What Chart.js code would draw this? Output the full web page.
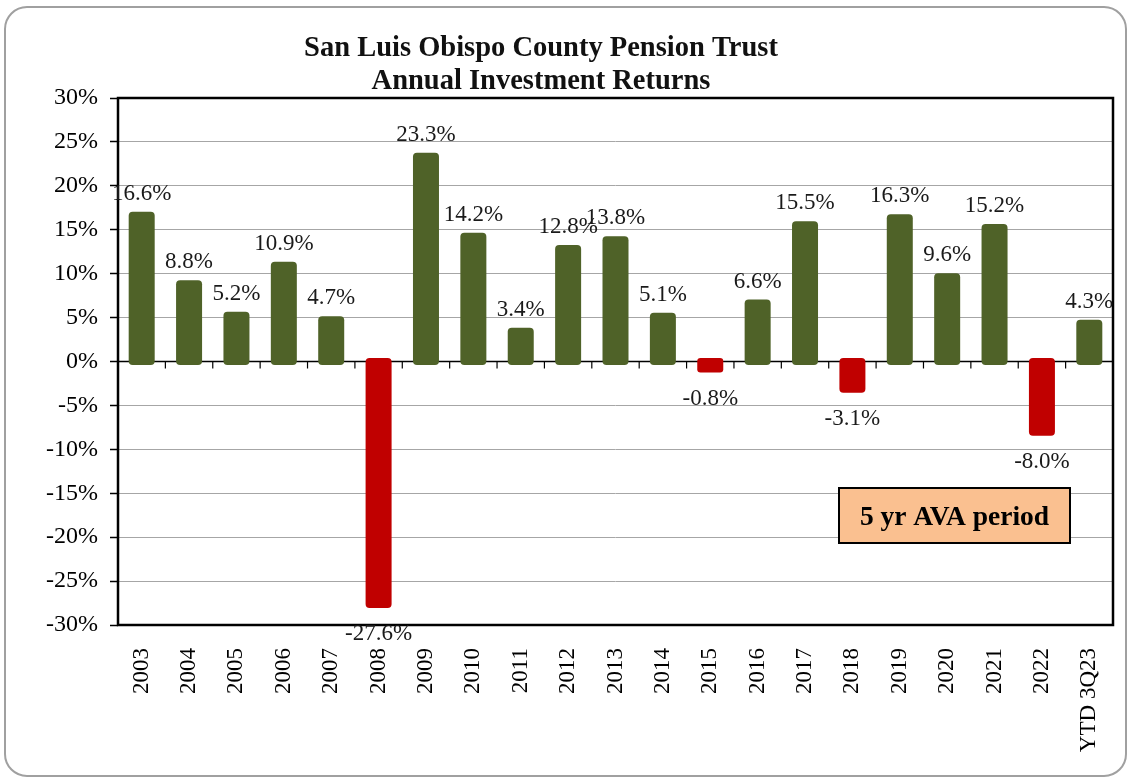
<!DOCTYPE html>
<html>
<head>
<meta charset="utf-8">
<script src="https://cdn.jsdelivr.net/npm/chart.js@4"></script>
<style>
html,body{margin:0;padding:0;background:#fff;}
#wrap{width:1128px;height:778px;position:relative;}
</style>
</head>
<body>
<div id="wrap"><canvas id="c" width="1128" height="778"></canvas></div>
<script>
const categories = ['2003','2004','2005','2006','2007','2008','2009','2010','2011','2012','2013','2014','2015','2016','2017','2018','2019','2020','2021','2022','YTD 3Q23'];
const returns = [16.6, 8.8, 5.2, 10.9, 4.7, -27.6, 23.3, 14.2, 3.4, 12.8, 13.8, 5.1, -0.8, 6.6, 15.5, -3.1, 16.3, 9.6, 15.2, -8.0, 4.3];
const titleLines = ['San Luis Obispo County Pension Trust', 'Annual Investment Returns'];
const annotationText = '5 yr AVA period';
const yMin = -30, yMax = 30, yStep = 5;

const GREEN = '#4f6228', RED = '#c00000';
const SERIF = "'Liberation Serif', 'Times New Roman', serif";

const decor = {
  id: 'decor',
  beforeDraw(chart) {
    const ctx = chart.ctx;
    ctx.save();
    ctx.fillStyle = '#fff';
    ctx.fillRect(0, 0, chart.width, chart.height);
    ctx.strokeStyle = '#a0a0a0';
    ctx.lineWidth = 2;
    ctx.beginPath();
    ctx.roundRect(5, 7, 1121, 769, 22);
    ctx.stroke();
    ctx.restore();
  },
  beforeDatasetsDraw(chart) {
    const ctx = chart.ctx, x = chart.scales.x, y = chart.scales.y, a = chart.chartArea;
    const y0 = y.getPixelForValue(0);
    ctx.save();
    ctx.strokeStyle = '#000';
    ctx.lineWidth = 1.5;
    ctx.beginPath();
    ctx.moveTo(a.left, y0); ctx.lineTo(a.right, y0);
    ctx.stroke();
    ctx.lineWidth = 1.2;
    for (let i = 1; i <= categories.length; i++) {
      const xb = i < categories.length ? (x.getPixelForValue(i - 1) + x.getPixelForValue(i)) / 2 : a.right;
      ctx.beginPath();
      ctx.moveTo(xb, y0); ctx.lineTo(xb, y0 + 7);
      ctx.stroke();
    }
    ctx.restore();
  },
  afterDatasetsDraw(chart) {
    const ctx = chart.ctx, a = chart.chartArea, y = chart.scales.y;
    ctx.save();
    ctx.strokeStyle = '#000';
    ctx.lineWidth = 2.5;
    ctx.strokeRect(a.left, a.top, a.right - a.left, a.bottom - a.top);
    const meta = chart.getDatasetMeta(0);
    ctx.fillStyle = '#1a1a1a';
    ctx.font = '23px ' + SERIF;
    ctx.textAlign = 'center';
    ctx.textBaseline = 'middle';
    meta.data.forEach((el, i) => {
      const v = returns[i];
      const py = y.getPixelForValue(v);
      ctx.fillText(v.toFixed(1) + '%', el.x, v >= 0 ? py - 22 : py + 30);
    });
    ctx.fillStyle = '#fac090';
    ctx.fillRect(839, 488, 231, 55);
    ctx.strokeStyle = '#000';
    ctx.lineWidth = 2;
    ctx.strokeRect(839, 488, 231, 55);
    ctx.fillStyle = '#000';
    ctx.font = 'bold 27.5px ' + SERIF;
    ctx.textBaseline = 'alphabetic';
    ctx.fillText(annotationText, 954.5, 525);
    ctx.font = 'bold 28.5px ' + SERIF;
    ctx.fillStyle = '#111';
    ctx.fillText(titleLines[0], 541, 56);
    ctx.fillText(titleLines[1], 541, 89);
    ctx.restore();
  }
};

new Chart(document.getElementById('c'), {
  type: 'bar',
  data: {
    labels: categories,
    datasets: [{
      data: returns,
      backgroundColor: ctx => (returns[ctx.dataIndex] >= 0 ? GREEN : RED),
      borderWidth: 0,
      borderRadius: 4,
      borderSkipped: false,
      inflateAmount: 4,
      barPercentage: 0.38,
      categoryPercentage: 1.0
    }]
  },
  options: {
    responsive: false,
    devicePixelRatio: 1,
    animation: false,
    layout: { padding: { top: 98, right: 15, bottom: 0, left: 0 } },
    plugins: { legend: { display: false }, tooltip: { enabled: false }, title: { display: false } },
    scales: {
      x: {
        type: 'category',
        grid: { display: false, drawTicks: false },
        border: { display: false },
        ticks: {
          autoSkip: false,
          maxRotation: 90, minRotation: 90,
          padding: 23,
          color: '#000',
          font: { family: SERIF, size: 23 }
        },
        afterFit(scale) { scale.height = 153; scale.paddingLeft = 0; scale.paddingRight = 0; }
      },
      y: {
        min: yMin, max: yMax,
        grid: { color: '#a6a6a6', lineWidth: 1, tickLength: 8, tickColor: '#000', tickWidth: 1.5, drawTicks: true },
        border: { display: false },
        ticks: {
          stepSize: yStep,
          padding: 12,
          color: '#000',
          font: { family: SERIF, size: 24 },
          callback: v => v + '%'
        },
        afterFit(scale) { scale.width = 118; scale.paddingTop = 0; scale.paddingBottom = 0; }
      }
    }
  },
  plugins: [decor]
});
</script>
</body>
</html>
